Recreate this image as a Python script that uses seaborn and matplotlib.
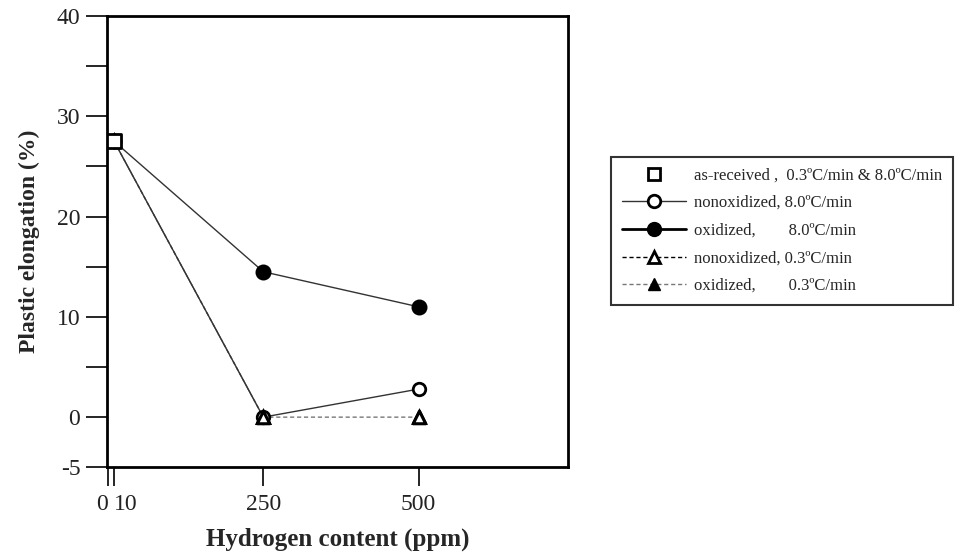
import matplotlib
matplotlib.use("Agg")
import matplotlib.pyplot as plt
from matplotlib.lines import Line2D
import seaborn as sns
import pandas as pd

sns.set_theme(style="white")
plt.rcParams['font.family'] = ['Liberation Serif', 'DejaVu Serif']
plt.rcParams['axes.unicode_minus'] = False

hydrogen = [10, 250, 500]
as_received_x = [10]
as_received_y = [27.5]
nonox_fast = [27.5, 0.0, 2.8]
ox_fast = [27.5, 14.5, 11.0]
nonox_slow = [27.5, 0.0, 0.0]
ox_slow_x = [10, 250]
ox_slow = [27.5, 0.0]

labels = ["as-received ,  0.3ºC/min & 8.0ºC/min",
          "nonoxidized, 8.0ºC/min",
          "oxidized,        8.0ºC/min",
          "nonoxidized, 0.3ºC/min",
          "oxidized,        0.3ºC/min"]

fig = plt.figure(figsize=(9.79, 5.53), dpi=100)
ax = fig.add_axes([0.109, 0.155, 0.471, 0.816])

ms = 9
sns.lineplot(x=ox_slow_x, y=ox_slow, ax=ax, color="#555555", lw=0.9,
             linestyle=(0, (3, 2)), marker="^", markersize=ms, markerfacecolor="black",
             markeredgecolor="black", markeredgewidth=2)
sns.lineplot(x=hydrogen, y=nonox_slow, ax=ax, color="#777777", lw=1.0,
             linestyle=(0, (3, 2)), marker="^", markersize=ms, markerfacecolor="white",
             markeredgecolor="black", markeredgewidth=2.2)
sns.lineplot(x=hydrogen, y=ox_fast, ax=ax, color="#333333", lw=1.0,
             marker="o", markersize=ms + 1, markerfacecolor="black",
             markeredgecolor="black", markeredgewidth=1.5)
sns.lineplot(x=hydrogen, y=nonox_fast, ax=ax, color="#333333", lw=1.0,
             marker="o", markersize=ms, markerfacecolor="white",
             markeredgecolor="black", markeredgewidth=2)
sns.scatterplot(x=hydrogen[1:], y=nonox_slow[1:], ax=ax, marker="^", s=ms**2,
                facecolor="white", edgecolor="black", linewidth=2.2, zorder=5)
sns.scatterplot(x=as_received_x, y=as_received_y, ax=ax, marker="s", s=(ms + 1)**2,
                facecolor="white", edgecolor="black", linewidth=2, zorder=6)

ax.set_xlim(-2, 740)
ax.set_ylim(-5, 40)
ax.set_xticks([0, 10, 250, 500])
ax.set_xticklabels(["0", "10", "250", "500"])
ax.set_yticks([-5, 0, 10, 20, 30, 40])
ax.set_yticks([5, 15, 25, 35], minor=True)
ax.tick_params(axis="both", which="both", direction="out", length=14, width=1.2,
               labelsize=17, color="black", labelcolor="#222222")
ax.tick_params(axis="y", which="both", left=True, length=15, pad=4)
ax.tick_params(axis="x", which="both", bottom=True, pad=5)
for lab in ax.get_xticklabels():
    if lab.get_text() == "0":
        lab.set_horizontalalignment("right")
    if lab.get_text() == "10":
        lab.set_horizontalalignment("left")
for s in ax.spines.values():
    s.set_visible(True)
    s.set_color("black")
    s.set_linewidth(2)

ax.set_xlabel("Hydrogen content (ppm)", fontsize=18, fontweight="bold", labelpad=9)
ax.set_ylabel("Plastic elongation (%)", fontsize=17, fontweight="bold", labelpad=12)

handles = [
    Line2D([], [], linestyle="none", marker="s", markersize=ms, markerfacecolor="white",
           markeredgecolor="black", markeredgewidth=2),
    Line2D([], [], color="#333333", lw=1.0, marker="o", markersize=ms,
           markerfacecolor="white", markeredgecolor="black", markeredgewidth=2),
    Line2D([], [], color="black", lw=2.0, marker="o", markersize=ms + 1,
           markerfacecolor="black", markeredgecolor="black"),
    Line2D([], [], color="black", lw=1.0, linestyle=(0, (3, 2)), marker="^",
           markersize=ms, markerfacecolor="white", markeredgecolor="black", markeredgewidth=2),
    Line2D([], [], color="#777777", lw=1.0, linestyle=(0, (3, 2)), marker="^",
           markersize=ms, markerfacecolor="black", markeredgecolor="black"),
]
leg = fig.legend(handles, labels, loc="upper left", bbox_to_anchor=(0.616, 0.732),
                 fontsize=12, frameon=True, fancybox=False, handlelength=3.8,
                 labelspacing=0.7, borderpad=0.65, handletextpad=0.5)
leg.get_frame().set_edgecolor("black")
leg.get_frame().set_linewidth(1.5)

fig.savefig("out.png", dpi=100)
